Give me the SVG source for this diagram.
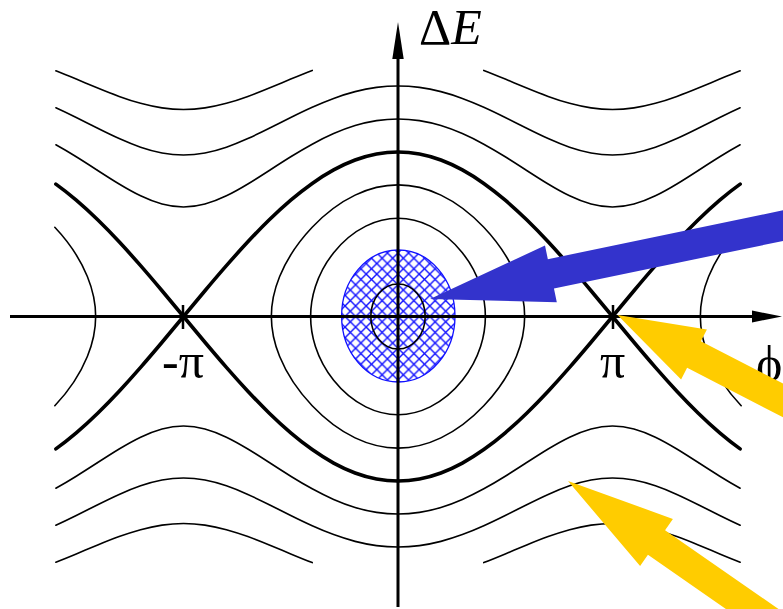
<svg xmlns="http://www.w3.org/2000/svg" xmlns:xlink="http://www.w3.org/1999/xlink" width="783" height="609" viewBox="0 0 783 609">
<style>
.thin{fill:none;stroke:#000;stroke-width:1.6;stroke-linecap:round}
.sep{fill:none;stroke:#000;stroke-width:3.6;stroke-linecap:round;stroke-linejoin:miter}
.axis{fill:none;stroke:#000;stroke-width:3}
.lbl{font-family:"Liberation Serif","Times New Roman",serif;font-size:50px;fill:#000}
</style>
<defs>
<pattern id="hatch" patternUnits="userSpaceOnUse" x="398" y="316.5" width="10.6" height="10.6">
<path d="M0,0 L10.6,10.6 M10.6,0 L0,10.6" stroke="#1010ff" stroke-width="1.4"/>
</pattern>
<g id="quad">
<path class="thin" d="M85.8,-246.09 C92.95,-243.35 100.1,-240.42 107.25,-237.44 C114.4,-234.46 121.55,-231.42 128.7,-228.47 C135.85,-225.52 143,-222.67 150.15,-220.06 C157.3,-217.46 164.45,-215.10 171.6,-213.15 C178.75,-211.20 185.9,-209.65 193.05,-208.60 C200.2,-207.55 207.35,-207.00 214.5,-207.00 C221.65,-207.00 228.8,-207.55 235.95,-208.60 C243.1,-209.65 250.25,-211.20 257.4,-213.15 C264.55,-215.10 271.7,-217.46 278.85,-220.06 C286,-222.67 293.15,-225.52 300.3,-228.47 C307.45,-231.42 314.6,-234.46 321.75,-237.44 C328.54,-240.27 335.34,-243.06 342.13,-245.68"/>
<path class="thin" d="M0,-230.53 C7.15,-230.53 14.3,-230.05 21.45,-229.09 C28.6,-228.13 35.75,-226.71 42.9,-224.86 C50.05,-223.01 57.2,-220.73 64.35,-218.10 C71.5,-215.47 78.65,-212.50 85.8,-209.28 C92.95,-206.06 100.1,-202.60 107.25,-199.04 C114.4,-195.48 121.55,-191.82 128.7,-188.24 C135.85,-184.66 143,-181.16 150.15,-177.94 C157.3,-174.72 164.45,-171.78 171.6,-169.32 C178.75,-166.86 185.9,-164.89 193.05,-163.55 C200.2,-162.21 207.35,-161.51 214.5,-161.51 C221.65,-161.51 228.8,-162.21 235.95,-163.55 C243.1,-164.89 250.25,-166.86 257.4,-169.32 C264.55,-171.78 271.7,-174.72 278.85,-177.94 C286,-181.16 293.15,-184.66 300.3,-188.24 C307.45,-191.82 314.6,-195.48 321.75,-199.04 C328.54,-202.42 335.34,-205.71 342.13,-208.79"/>
<path class="thin" d="M0,-197.57 C7.15,-197.57 14.3,-197.01 21.45,-195.89 C28.6,-194.77 35.75,-193.10 42.9,-190.92 C50.05,-188.74 57.2,-186.04 64.35,-182.91 C71.5,-179.78 78.65,-176.20 85.8,-172.29 C92.95,-168.38 100.1,-164.14 107.25,-159.70 C114.4,-155.26 121.55,-150.64 128.7,-146.03 C135.85,-141.42 143,-136.81 150.15,-132.48 C157.3,-128.15 164.45,-124.11 171.6,-120.66 C178.75,-117.21 185.9,-114.36 193.05,-112.41 C200.2,-110.46 207.35,-109.43 214.5,-109.43 C221.65,-109.43 228.8,-110.46 235.95,-112.41 C243.1,-114.36 250.25,-117.21 257.4,-120.66 C264.55,-124.11 271.7,-128.15 278.85,-132.48 C286,-136.81 293.15,-141.42 300.3,-146.03 C307.45,-150.64 314.6,-155.26 321.75,-159.70 C328.54,-163.91 335.34,-167.96 342.13,-171.70"/>
<path class="sep" d="M0,-164.5 C7.15,-164.5 14.3,-163.82 21.45,-162.47 C28.6,-161.12 35.75,-159.11 42.9,-156.45 C50.05,-153.79 57.2,-150.48 64.35,-146.57 C71.5,-142.66 78.65,-138.14 85.8,-133.08 C92.95,-128.02 100.1,-122.41 107.25,-116.32 C114.4,-110.23 121.55,-103.66 128.7,-96.69 C135.85,-89.72 143,-82.36 150.15,-74.68 C157.3,-67.01 164.45,-59.02 171.6,-50.83 C178.75,-42.64 185.9,-34.24 193.05,-25.73 C200.2,-17.22 207.35,-8.61 214.5,0 C221.65,-8.61 228.8,-17.22 235.95,-25.73 C243.1,-34.24 250.25,-42.64 257.4,-50.83 C264.55,-59.02 271.7,-67.01 278.85,-74.68 C286,-82.36 293.15,-89.72 300.3,-96.69 C307.45,-103.66 314.6,-110.23 321.75,-116.32 C328.54,-122.10 335.34,-127.48 342.13,-132.34"/>
<path class="thin" d="M0,-131.6 C14.7,-131.6 29.65,-127.75 42.9,-121.39 C59.01,-113.66 73.51,-102.24 85.8,-89.27 C99.33,-74.98 110.9,-58.22 118.35,-40 C123.51,-27.39 126.66,-13.62 126.66,0"/>
<path class="thin" d="M0,-98.22 C11.04,-98.22 22.3,-95.32 32.18,-90.40 C44.64,-84.2 55.68,-74.68 64.35,-63.79 C72.32,-53.77 78.64,-42.18 82.58,-30 C85.7,-20.36 87.38,-10.13 87.38,0"/>
</g>
<path id="arc" class="thin" d="M85.8,-89.27 C99.33,-74.98 110.9,-58.22 118.35,-40 C123.51,-27.39 126.66,-13.62 126.66,0"/>
</defs>

<g id="phase-space">
<ellipse id="bunch" cx="398.3" cy="316" rx="56.7" ry="66" fill="url(#hatch)" stroke="#1010ff" stroke-width="1.3"/>
<g id="trajectories" transform="translate(398,316.5)">
<use href="#quad"/>
<use href="#quad" transform="scale(-1,1)"/>
<use href="#quad" transform="scale(1,-1)"/>
<use href="#quad" transform="scale(-1,-1)"/>
<ellipse class="thin" cx="0" cy="0" rx="27.2" ry="32.5"/>
</g>
<g id="side-orbits">
<g transform="translate(-31,316.5)">
<use href="#arc"/>
<use href="#arc" transform="scale(1,-1)"/>
</g>
<g transform="translate(827,316.5)">
<use href="#arc" transform="scale(-1,1)"/>
<use href="#arc" transform="scale(-1,-1)"/>
</g>
</g>
</g>

<g id="axes">
<line class="axis" x1="10" y1="316.5" x2="756" y2="316.5"/>
<polygon points="782,316.5 752,310.5 752,322.5" fill="#000"/>
<line class="axis" x1="398" y1="607" x2="398" y2="54"/>
<polygon points="398,22 392.3,59 403.7,59" fill="#000"/>
<line x1="183" y1="305" x2="183" y2="329" stroke="#000" stroke-width="2.5"/>
<line x1="613" y1="305" x2="613" y2="329" stroke="#000" stroke-width="2.5"/>
</g>

<g id="labels">
<text class="lbl" x="419" y="44" font-size="47">Δ<tspan font-style="italic">E</tspan></text>
<text class="lbl" x="162" y="378">-π</text>
<text class="lbl" x="600" y="378">π</text>
<text class="lbl" x="756" y="381">ϕ</text>
</g>

<g id="arrows">
<polygon id="blue-arrow" fill="#3333cc" points="430,299 545,245.5 547.85,259.2 800,206.8 800,237.4 553.95,288.6 556.8,302.3"/>
<polygon id="yellow-arrow-1" fill="#ffcc00" points="617.5,315 706.9,329.4 700.88,341.17 800,392.35 800,426.1 687.12,367.83 681.1,379.6"/>
<polygon id="yellow-arrow-2" fill="#ffcc00" points="568,481 672.9,518.9 665.06,530.18 823.1,640 770.5,640 647.94,554.82 640.1,566.1"/>
</g>
</svg>
